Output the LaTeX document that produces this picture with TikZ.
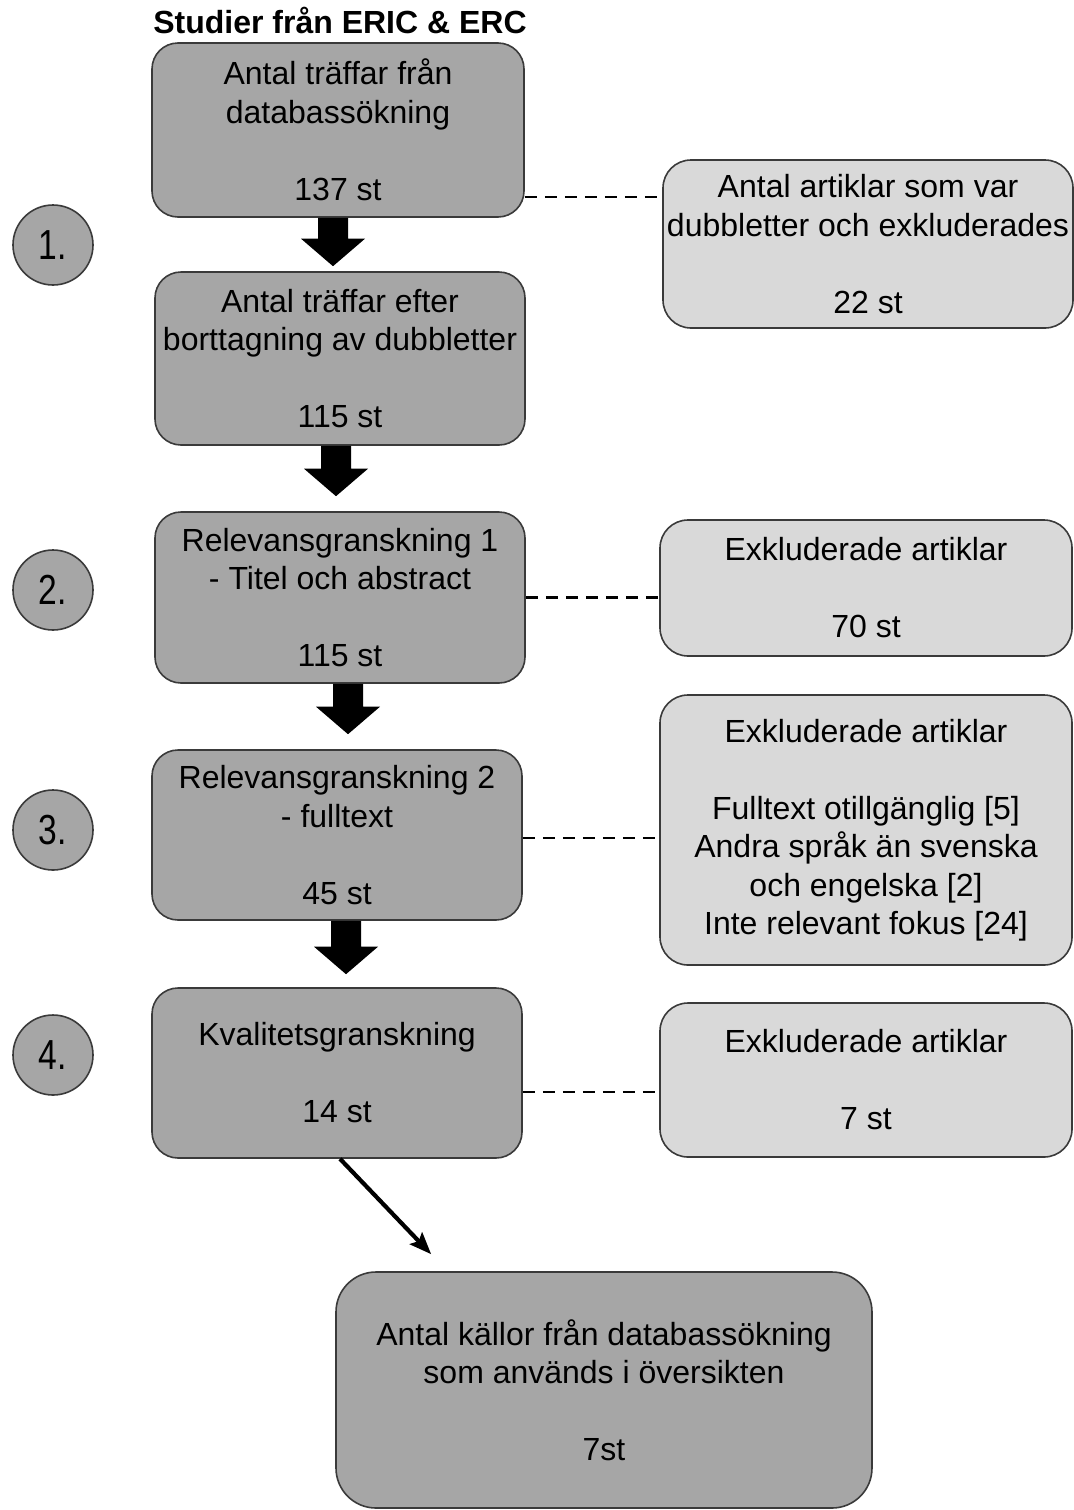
\documentclass[tikz,border=0pt]{standalone}
\usepackage{fontspec}
\setmainfont{Liberation Sans}
\usetikzlibrary{calc,arrows.meta}
\definecolor{darkbox}{HTML}{A6A6A6}
\definecolor{lightbox}{HTML}{D9D9D9}
\definecolor{edgecol}{HTML}{3A3A3A}
\newcommand{\blockarr}[2]{\fill[black] let \p1=#1, \p2=#2 in (\x1-7.5pt,\y1) -- (\x1+7.5pt,\y1) -- (\x1+7.5pt,\y2+13.75pt) -- (\x1+16pt,\y2+13.75pt) -- (\x1,\y2) -- (\x1-16pt,\y2+13.75pt) -- (\x1-7.5pt,\y2+13.75pt) -- cycle;}
\begin{document}
\begin{tikzpicture}[x=0.5pt,y=-0.5pt,
 txt/.style={font=\fontsize{16}{19.25}\selectfont, align=center},
 mainbox/.style={txt, draw=edgecol, line width=0.8pt, fill=darkbox, rounded corners=13pt, inner sep=1pt},
 sidebox/.style={txt, draw=edgecol, line width=0.8pt, fill=lightbox, rounded corners=14pt, inner sep=1pt},
 stepnum/.style={circle, draw=edgecol, line width=0.8pt, fill=darkbox, minimum size=40pt, inner sep=0pt, font=\fontsize{21}{22}\selectfont},
 dashline/.style={draw=black, line width=1.2pt, dash pattern=on 6pt off 4pt}]
\useasboundingbox (0,0) rectangle (1074,1510);
\node[font=\bfseries\fontsize{16}{19}\selectfont, anchor=base] (title) at (340,33) {Studier från ERIC \& ERC};

\node[mainbox, minimum width=186pt, minimum height=87pt] (b1) at (338,130) {Antal träffar från\\databassökning\\[19.25pt]137 st};
\node[mainbox, minimum width=185pt, minimum height=86.5pt] (b2) at (340,358.5) {Antal träffar efter\\borttagning av dubbletter\\[19.25pt]115 st};
\node[mainbox, minimum width=185pt, minimum height=85.5pt] (b3) at (340,597.5) {Relevansgranskning 1\\- Titel och abstract\\[19.25pt]115 st};
\node[mainbox, minimum width=185pt, minimum height=85pt] (b4) at (337,835) {Relevansgranskning 2\\- fulltext\\[19.25pt]45 st};
\node[mainbox, minimum width=185pt, minimum height=85pt] (b5) at (337,1073) {Kvalitetsgranskning\\[19.25pt]14 st};
\node[mainbox, rounded corners=20pt, minimum width=268pt, minimum height=118pt] (b6) at (604,1390) {Antal källor från databassökning\\som används i översikten\\[19.25pt]7st};

\node[sidebox, minimum width=205pt, minimum height=84pt] (r1) at (868,244) {Antal artiklar som var\\dubbletter och exkluderades\\[19.25pt]22 st};
\node[sidebox, minimum width=206pt, minimum height=68pt] (r2) at (866,588) {Exkluderade artiklar\\[19.25pt]70 st};
\node[sidebox, minimum width=206pt, minimum height=135pt] (r3) at (866,830) {Exkluderade artiklar\\[19.25pt]Fulltext otillgänglig [5]\\Andra språk än svenska\\och engelska [2]\\Inte relevant fokus [24]};
\node[sidebox, minimum width=206pt, minimum height=77pt] (r4) at (866,1080) {Exkluderade artiklar\\[19.25pt]7 st};

\node[stepnum] (c1) at (53,245) {\scalebox{0.8}[1]{1.}};
\node[stepnum] (c2) at (53,590) {\scalebox{0.8}[1]{2.}};
\node[stepnum] (c3) at (53,830) {\scalebox{0.8}[1]{3.}};
\node[stepnum] (c4) at (53,1055) {\scalebox{0.8}[1]{4.}};

\blockarr{($(b1.south)+(-5,0)$)}{($(b2.north)+(0,-5)$)}
\blockarr{($(b2.south)+(-4,0)$)}{($(b3.north)+(0,-15)$)}
\blockarr{($(b3.south)+(8,0)$)}{($(b4.north)+(0,-15)$)}
\blockarr{($(b4.south)+(9,0)$)}{($(b5.north)+(0,-13)$)}

\coordinate (d1) at ($(b1.south east)+(0,-21)$);
\coordinate (d2) at (b3.east);
\coordinate (d3) at ($(b4.east)+(0,3)$);
\coordinate (d4) at ($(b5.east)+(0,19)$);
\draw[dashline] (d1) -- (d1 -| r1.west);
\draw[dashline] (d2) -- (d2 -| r2.west);
\draw[dashline] (d3) -- (d3 -| r3.west);
\draw[dashline] (d4) -- (d4 -| r4.west);

\coordinate (a6) at ($(b6.north west)+(96,-17)$);
\draw[line width=2.1pt, -{Stealth[length=11pt,width=8.5pt,inset=2pt]}] ($(b5.south)+(3,0)$) -- (a6);
\end{tikzpicture}
\end{document}
